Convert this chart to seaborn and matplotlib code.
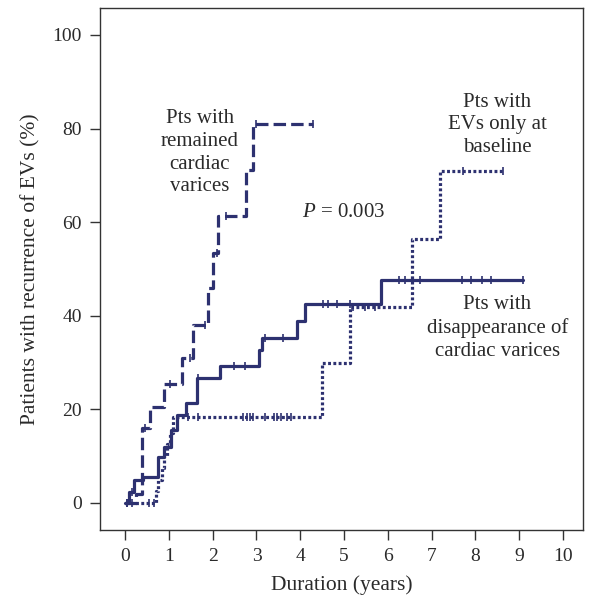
import matplotlib
matplotlib.use("Agg")
import matplotlib.pyplot as plt
import seaborn as sns
import pandas as pd

# ---- data (step change points, percent) ----
rem_t = [0, 0.25, 0.38, 0.56, 0.9, 1.3, 1.55, 1.9, 2.0, 2.12, 2.75, 2.92, 4.3]
rem_y = [0, 2, 16, 20.5, 25.5, 31, 38, 46, 53.5, 61.3, 71.2, 81, 81]
rem_ct = [0.45, 1.03, 1.48, 1.83, 2.1, 2.3, 3.0, 4.3]
rem_cy = [16, 25.5, 31, 38, 53.5, 61.3, 81, 81]

dis_t = [0, 0.1, 0.2, 0.4, 0.75, 0.9, 1.05, 1.18, 1.4, 1.65, 2.17, 3.06, 3.12, 3.93, 4.1, 5.84, 9.08]
dis_y = [0, 2.4, 4.8, 5.6, 9.8, 12, 15.6, 18.8, 21.4, 26.7, 29.3, 32.7, 35.3, 38.9, 42.5, 47.6, 47.6]
dis_ct = [0.05, 0.15, 1.67, 2.49, 2.74, 3.2, 3.6, 4.52, 4.63, 4.84, 5.14,
          6.26, 6.4, 6.73, 7.7, 7.9, 8.15, 8.36, 9.08]
dis_cy = [0, 2.4, 26.7, 29.3, 29.3, 35.3, 35.3, 42.5, 42.5, 42.5, 42.5,
          47.6, 47.6, 47.6, 47.6, 47.6, 47.6, 47.6, 47.6]

evs_t = [0, 0.7, 0.75, 0.85, 0.9, 0.95, 1.02, 1.1, 4.5, 5.14, 6.55, 7.19, 8.63]
evs_y = [0, 2.5, 5, 7.5, 10, 12.5, 15, 18.4, 30, 41.9, 56.4, 71, 71]
evs_ct = [0.05, 0.15, 0.55, 0.65, 1.44, 1.67, 2.7, 2.78, 2.85, 2.93, 3.2, 3.4,
          3.48, 3.55, 3.7, 3.8, 5.2, 5.48, 5.7, 7.72, 8.63]
evs_cy = [0, 0, 0, 0, 18.4, 18.4, 18.4, 18.4, 18.4, 18.4, 18.4, 18.4,
          18.4, 18.4, 18.4, 18.4, 41.9, 41.9, 41.9, 71, 71]

x_ticks = list(range(0, 11))
y_ticks = [0, 20, 40, 60, 80, 100]

NAVY = "#2d3170"
TXT = "#2a2a2a"

sns.set_theme(style="ticks")
plt.rcParams["font.family"] = ["Liberation Serif", "DejaVu Serif"]
plt.rcParams["mathtext.fontset"] = "custom"
plt.rcParams["mathtext.it"] = "Liberation Serif:italic"
plt.rcParams["mathtext.rm"] = "Liberation Serif"

fig = plt.figure(figsize=(5.89, 6.03), dpi=100)
ax = fig.add_axes([0.170, 0.121, 0.820, 0.866])

series = [
    (rem_t, rem_y, rem_ct, rem_cy, (3.9, 1.6)),
    (dis_t, dis_y, dis_ct, dis_cy, None),
    (evs_t, evs_y, evs_ct, evs_cy, (0.9, 0.75)),
]
for t, y, ct, cy, dash in series:
    df = pd.DataFrame({"t": t, "y": y})
    sns.lineplot(data=df, x="t", y="y", ax=ax, color=NAVY, lw=2.3,
                 drawstyle="steps-post", estimator=None, sort=False)
    l = ax.lines[-1]
    if dash is not None:
        l.set_dashes(dash)
    cdf = pd.DataFrame({"t": ct, "y": cy})
    sns.scatterplot(data=cdf, x="t", y="y", ax=ax, marker="|", s=40,
                    color=NAVY, linewidth=1.2, zorder=3)

ax.set_xlim(-0.57, 10.46)
ax.set_ylim(-5.8, 105.8)
ax.set_xticks(x_ticks)
ax.set_yticks(y_ticks)
ax.tick_params(direction="out", length=7, width=1, colors="#333333",
               labelsize=14, labelcolor=TXT, pad=6)
for s in ax.spines.values():
    s.set_color("#333333")
    s.set_linewidth(1.0)
ax.set_xlabel("Duration (years)", fontsize=15.5, color=TXT, labelpad=7)
ax.set_ylabel("Patients with recurrence of EVs (%)", fontsize=15.5, color=TXT, labelpad=9)

fs = 15
ls = 1.26
ax.text(1.71, 74.8, "Pts with\nremained\ncardiac\nvarices", ha="center", va="center",
        fontsize=fs, color=TXT, linespacing=ls)
ax.text(8.5, 80.8, "Pts with\nEVs only at\nbaseline", ha="center", va="center",
        fontsize=fs, color=TXT, linespacing=ls)
ax.text(4.98, 62.0, "$\\it{P}$ = 0.003", ha="center", va="center", fontsize=fs, color=TXT)
ax.text(8.5, 37.4, "Pts with\ndisappearance of\ncardiac varices", ha="center", va="center",
        fontsize=fs, color=TXT, linespacing=ls)

fig.savefig("out.png", dpi=100)
